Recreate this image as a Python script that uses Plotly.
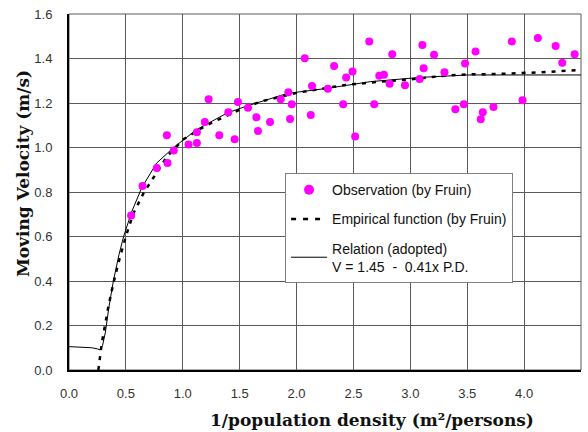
import plotly.graph_objects as go

# Observations (by Fruin)
obs_x = [0.546, 0.646, 0.772, 0.860, 0.866, 0.921, 1.051, 1.124, 1.124, 1.194,
         1.227, 1.321, 1.400, 1.456, 1.485, 1.573, 1.647, 1.661, 1.767, 1.861,
         1.928, 1.943, 1.958, 2.072, 2.125, 2.136, 2.275, 2.330, 2.410, 2.436,
         2.492, 2.515, 2.639, 2.683, 2.727, 2.768, 2.818, 2.841, 2.953, 3.082,
         3.106, 3.117, 3.208, 3.300, 3.396, 3.470, 3.481, 3.573, 3.619, 3.637,
         3.731, 3.892, 3.986, 4.121, 4.277, 4.335, 4.444]
obs_y = [0.694, 0.827, 0.908, 1.055, 0.930, 0.987, 1.013, 1.068, 1.020, 1.115,
         1.217, 1.055, 1.158, 1.037, 1.204, 1.179, 1.136, 1.074, 1.115, 1.217,
         1.248, 1.128, 1.194, 1.401, 1.146, 1.276, 1.264, 1.366, 1.194, 1.315,
         1.342, 1.050, 1.476, 1.194, 1.323, 1.327, 1.287, 1.419, 1.280, 1.308,
         1.461, 1.356, 1.417, 1.338, 1.172, 1.194, 1.377, 1.432, 1.127, 1.158,
         1.182, 1.476, 1.212, 1.492, 1.456, 1.381, 1.419]

# Empirical function (by Fruin)
emp_x = [0.258, 0.288, 0.346, 0.390, 0.449, 0.508, 0.566, 0.654, 0.763, 0.860,
         1.006, 1.212, 1.323, 1.506, 1.680, 2.005, 2.150, 2.430, 2.738, 3.000,
         3.267, 3.502, 3.736, 3.971, 4.147, 4.383, 4.500]
emp_y = [0.000, 0.120, 0.285, 0.390, 0.510, 0.614, 0.704, 0.794, 0.881, 0.959,
         1.037, 1.101, 1.128, 1.171, 1.206, 1.246, 1.258, 1.281, 1.296, 1.306,
         1.321, 1.329, 1.330, 1.333, 1.338, 1.345, 1.348]

# Relation (adopted)
rel_x = [0.0, 0.10, 0.20, 0.25, 0.273, 0.295, 0.32, 0.35, 0.39, 0.44, 0.48,
         0.55, 0.64, 0.77, 0.92, 1.12, 1.39, 1.56, 1.92, 2.27, 2.65, 3.09,
         3.50, 4.00, 4.50]
rel_y = [0.105, 0.104, 0.100, 0.095, 0.090, 0.110, 0.170, 0.280, 0.400, 0.520,
         0.600, 0.710, 0.820, 0.930, 1.000, 1.080, 1.155, 1.186, 1.243, 1.266,
         1.296, 1.315, 1.326, 1.326, 1.326]

x_ticks = [0.0, 0.5, 1.0, 1.5, 2.0, 2.5, 3.0, 3.5, 4.0, 4.5]
y_ticks = [0.0, 0.2, 0.4, 0.6, 0.8, 1.0, 1.2, 1.4, 1.6]

MAG = "#FF00FF"
fig = go.Figure()

# data traces
fig.add_trace(go.Scatter(x=rel_x, y=rel_y, mode="lines",
                         line=dict(color="black", width=1), showlegend=False))
fig.add_trace(go.Scatter(x=emp_x, y=emp_y, mode="lines",
                         line=dict(color="black", width=2.5, dash="4px,6px"),
                         showlegend=False))
fig.add_trace(go.Scatter(x=obs_x, y=obs_y, mode="markers",
                         marker=dict(color=MAG, size=8), showlegend=False))

# legend entries
fig.add_trace(go.Scatter(x=[None], y=[None], mode="markers",
                         marker=dict(color=MAG, size=10),
                         name="Observation (by Fruin)", legendgroup="a"))
fig.add_trace(go.Scatter(x=[None], y=[None], mode="lines",
                         line=dict(color="black", width=2.5, dash="5px,7px"),
                         name="Empirical function (by Fruin)", legendgroup="b"))
fig.add_trace(go.Scatter(x=[None], y=[None], mode="lines",
                         line=dict(color="black", width=1),
                         name="Relation (adopted)<br>V = 1.45  -  0.41x P.D.",
                         legendgroup="c"))

grid = "#5a5a5a"
fig.update_layout(
    width=588, height=432,
    margin=dict(l=69, r=7, t=14, b=62),
    paper_bgcolor="white", plot_bgcolor="white",
    font=dict(family="Liberation Sans, Arial, sans-serif", size=13, color="#222"),
    xaxis=dict(range=[0, 4.5], tickvals=x_ticks, ticktext=[f"{v:.1f}" for v in x_ticks],
               showgrid=True, gridcolor=grid, gridwidth=1, zeroline=False,
               showline=True, linecolor="black", linewidth=2, ticks="",
               ticklabelstandoff=10, tickfont=dict(size=13, color="#333")),
    yaxis=dict(range=[0, 1.6], tickvals=y_ticks, ticktext=[f"{v:.1f}" for v in y_ticks],
               showgrid=True, gridcolor=grid, gridwidth=1, zeroline=False,
               showline=True, linecolor="black", linewidth=2, ticks="",
               ticklabelstandoff=12, tickfont=dict(size=13, color="#333")),
    legend=dict(x=0.422, y=0.553, xanchor="left", yanchor="top",
                bgcolor="white", bordercolor="#808080", borderwidth=1,
                font=dict(size=14, color="#111"), tracegroupgap=8,
                itemwidth=36),
    shapes=[dict(type="rect", xref="paper", yref="paper", x0=0, x1=1, y0=0, y1=1,
                 line=dict(color=grid, width=1), layer="below")],
    annotations=[
        dict(text="<b>1/population density (m²/persons)</b>", xref="paper", yref="paper",
             x=0.592, y=-0.14, xanchor="center", yanchor="middle", showarrow=False,
             font=dict(family="DejaVu Serif", size=17, color="#111")),
        dict(text="<b>Moving Velocity (m/s)</b>", xref="paper", yref="paper",
             x=-0.09, y=0.553, xanchor="center", yanchor="middle", showarrow=False,
             textangle=-90,
             font=dict(family="DejaVu Serif", size=17, color="#111")),
    ],
)

fig.write_html("out.html")
